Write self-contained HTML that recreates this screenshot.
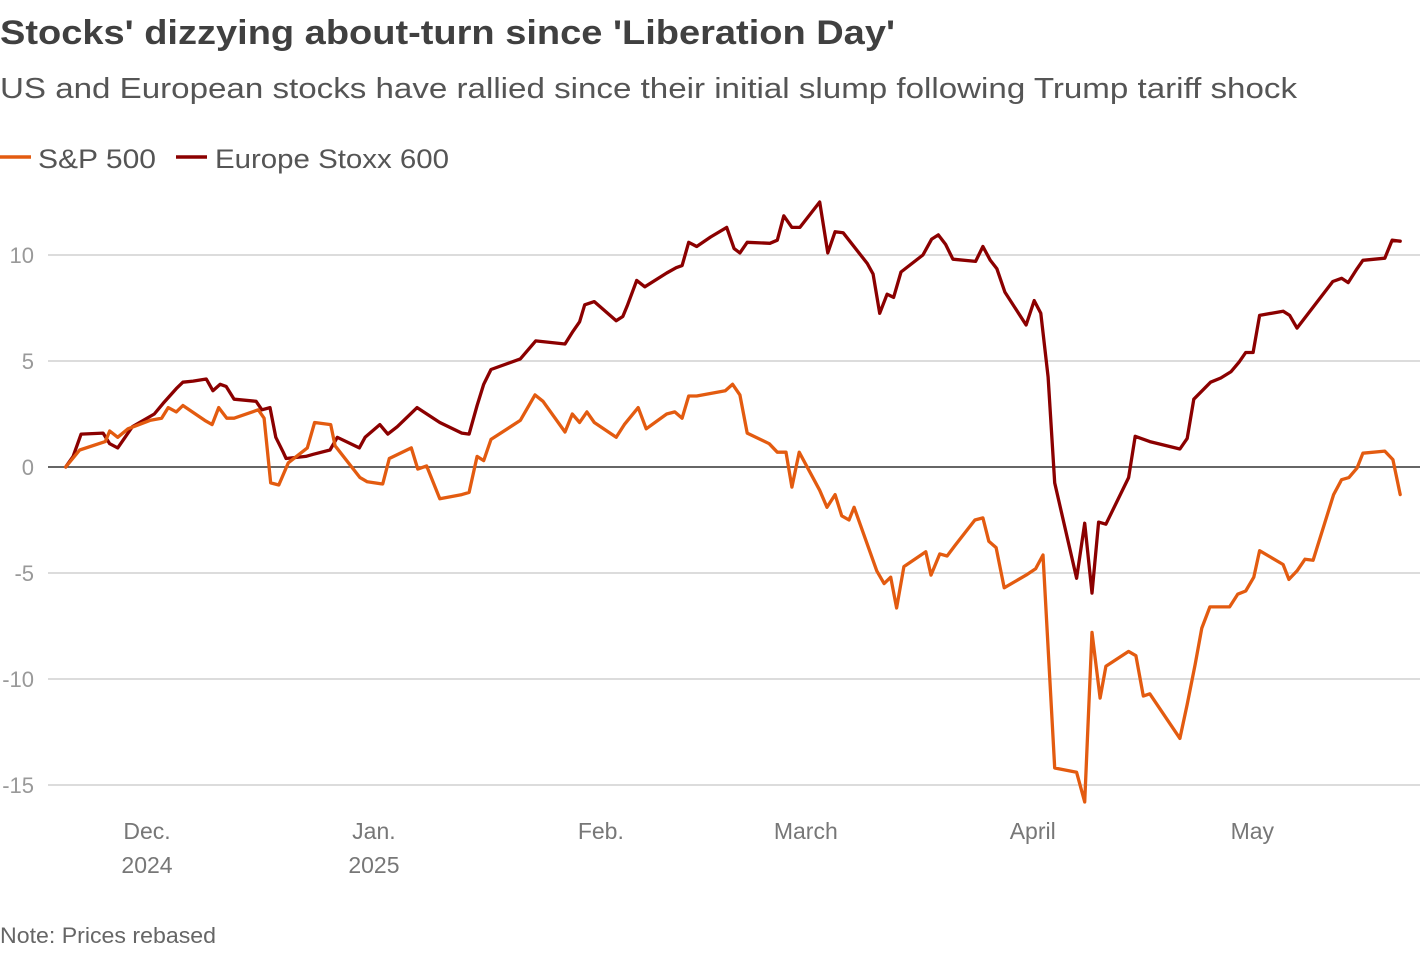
<!DOCTYPE html>
<html><head><meta charset="utf-8"><style>
body{margin:0;background:#fff;}
svg{display:block;font-family:"Liberation Sans",sans-serif;}
</style></head><body>
<svg width="1420" height="954" viewBox="0 0 1420 954">
<text x="0" y="44" font-size="34" font-weight="bold" fill="#404040" textLength="895" lengthAdjust="spacingAndGlyphs">Stocks' dizzying about-turn since 'Liberation Day'</text>
<text x="0" y="98" font-size="29" fill="#555" textLength="1297" lengthAdjust="spacingAndGlyphs">US and European stocks have rallied since their initial slump following Trump tariff shock</text>
<g>
<g>
<line x1="0" y1="157" x2="31" y2="157" stroke="#e35b10" stroke-width="3.5"/>
<text x="38" y="168" font-size="27" fill="#555" textLength="118" lengthAdjust="spacingAndGlyphs">S&amp;P 500</text></g>
<g>
<line x1="176" y1="157" x2="207" y2="157" stroke="#8b0000" stroke-width="3.5"/>
<text x="215" y="168" font-size="27" fill="#555" textLength="234" lengthAdjust="spacingAndGlyphs">Europe Stoxx 600</text></g>
</g>
<g id="grid"></g>
<g id="yt"></g>
<g id="xt"></g>
<g id="series"></g>
<text x="0" y="943" font-size="22" fill="#666" textLength="216" lengthAdjust="spacingAndGlyphs">Note: Prices rebased</text>
</svg>
<script>
const yTicks=[10,5,0,-5,-10,-15];
const xTickDays=[0,31,62,90,121,151];
const xTickLabels=[["Dec.","2024"],["Jan.","2025"],["Feb."],["March"],["April"],["May"]];
const spDays=[-11.1,-9.2,-5.7,-5.1,-4.0,-2.6,0.4,2.0,2.9,4.0,4.9,7.9,8.9,9.8,10.9,11.9,15.2,16.0,16.9,18.0,19.3,21.9,22.9,25.1,25.7,29.1,30.1,32.2,33.1,36.1,37.0,38.2,40.0,43.0,44.0,45.1,46.0,47.0,51.0,53.0,54.1,57.1,58.1,59.1,60.1,61.1,64.1,65.2,67.1,68.2,71.0,72.1,73.1,74.0,75.1,79.0,80.0,81.0,82.0,85.0,86.1,87.3,88.1,89.1,91.9,92.9,94.0,94.9,95.9,96.6,99.7,100.7,101.6,102.4,103.4,106.4,107.1,108.3,109.3,110.4,113.1,114.2,115.0,116.0,117.1,120.1,121.4,122.4,124.0,127.0,128.1,129.1,130.2,131.0,134.1,135.1,136.1,137.0,141.1,142.1,143.2,144.1,145.2,147.9,149.0,150.1,151.2,152.0,155.2,156.0,157.1,158.2,159.3,162.1,163.2,164.2,165.3,166.1,169.1,170.2,171.2];
const spValues=[0,0.8,1.2,1.7,1.4,1.8,2.2,2.3,2.8,2.6,2.9,2.2,2.0,2.8,2.3,2.3,2.7,2.3,-0.75,-0.85,0.2,0.9,2.1,2.0,1.0,-0.5,-0.7,-0.8,0.4,0.9,-0.1,0.05,-1.5,-1.3,-1.2,0.5,0.3,1.3,2.2,3.4,3.1,1.65,2.5,2.1,2.6,2.1,1.4,2.0,2.8,1.8,2.5,2.6,2.3,3.35,3.35,3.6,3.9,3.4,1.6,1.1,0.7,0.7,-0.95,0.7,-1.1,-1.9,-1.3,-2.3,-2.5,-1.9,-4.9,-5.5,-5.2,-6.65,-4.7,-4.0,-5.1,-4.1,-4.2,-3.7,-2.5,-2.4,-3.5,-3.8,-5.7,-5.1,-4.8,-4.15,-14.2,-14.4,-15.8,-7.8,-10.9,-9.4,-8.7,-8.9,-10.8,-10.7,-12.8,-11.2,-9.3,-7.6,-6.6,-6.6,-6.0,-5.85,-5.2,-3.95,-4.6,-5.3,-4.9,-4.35,-4.4,-1.3,-0.6,-0.5,-0.05,0.65,0.75,0.35,-1.3];
const sxDays=[-11.1,-10.1,-9.0,-6.0,-5.1,-4.0,-2.0,1.0,2.2,4.0,4.9,6.3,8.1,9.0,10.0,10.8,11.9,14.9,15.7,16.8,17.6,18.6,19.0,21.7,22.7,25.0,26.0,29.0,29.8,31.8,32.9,34.2,36.9,40.0,43.0,44.0,45.1,46.0,47.0,51.0,53.1,57.1,58.2,59.1,59.8,61.1,64.1,65.0,65.6,66.9,68.0,71.0,72.3,73.1,74.0,75.1,77.0,79.2,80.2,81.0,82.0,85.1,86.1,87.0,88.1,89.2,91.9,93.0,94.0,95.1,98.4,99.2,100.1,101.1,102.0,103.0,106.0,107.2,108.1,109.1,110.1,113.2,114.2,115.2,116.1,117.2,120.1,121.2,122.1,123.1,124.0,127.0,128.1,129.1,130.0,131.0,134.1,135.0,137.0,141.1,142.1,143.0,145.3,146.7,148.1,149.2,150.1,151.1,152.0,155.2,156.1,157.1,162.0,163.2,164.1,165.3,166.1,169.1,170.1,171.2];
const sxValues=[0,0.5,1.55,1.6,1.1,0.9,1.9,2.5,3.0,3.7,4.0,4.05,4.15,3.6,3.9,3.8,3.2,3.1,2.7,2.8,1.4,0.7,0.4,0.5,0.6,0.8,1.4,0.9,1.4,2.0,1.55,1.9,2.8,2.1,1.6,1.55,2.9,3.9,4.6,5.1,5.95,5.8,6.4,6.85,7.65,7.8,6.9,7.1,7.6,8.8,8.5,9.15,9.4,9.5,10.6,10.4,10.85,11.3,10.3,10.1,10.6,10.55,10.7,11.85,11.3,11.3,12.5,10.1,11.1,11.05,9.6,9.1,7.25,8.15,8.0,9.2,10.0,10.75,10.95,10.5,9.8,9.7,10.4,9.75,9.35,8.25,6.7,7.85,7.25,4.25,-0.75,-5.25,-2.65,-5.95,-2.6,-2.7,-0.5,1.45,1.2,0.85,1.35,3.2,4.0,4.2,4.5,4.95,5.4,5.4,7.15,7.35,7.15,6.55,8.75,8.9,8.7,9.35,9.75,9.85,10.7,10.65];

const NS='http://www.w3.org/2000/svg';
function xS(d){return 147+d*7.32;}
function yS(v){return 467-v*21.2;}
function mk(tag,attrs,parent){const e=document.createElementNS(NS,tag);for(const k in attrs)e.setAttribute(k,attrs[k]);parent.appendChild(e);return e;}
const grid=document.getElementById('grid'),yt=document.getElementById('yt'),xt=document.getElementById('xt'),ser=document.getElementById('series');
yTicks.forEach(v=>{
  const l=mk('line',{x1:48,x2:1420,y1:yS(v),y2:yS(v),stroke:v===0?'#333':'#c8c8c8','stroke-width':v===0?1.6:1.3},grid);
  
  
  const t=mk('text',{x:34,y:yS(v)+8,'text-anchor':'end','font-size':22,fill:'#999'},yt);
  t.textContent=String(v);
  
  
});
xTickDays.forEach((d,i)=>{
  xTickLabels[i].forEach((s,j)=>{
    const t=mk('text',{x:xS(d),y:839+j*34,'text-anchor':'middle','font-size':23,fill:'#777'},xt);
    t.textContent=s;
    
    
  });
});
function line(days,vals,color,name){
  const p=days.map((d,i)=>(i?'L':'M')+xS(d).toFixed(1)+' '+yS(vals[i]).toFixed(1)).join(' ');
  const e=mk('path',{d:p,fill:'none',stroke:color,'stroke-width':3.3,'stroke-linejoin':'round','stroke-linecap':'round'},ser);
  
  
}
line(sxDays,sxValues,'#8b0000','stoxx600-line');
line(spDays,spValues,'#e35b10','sp500-line');
</script>
</body></html>
